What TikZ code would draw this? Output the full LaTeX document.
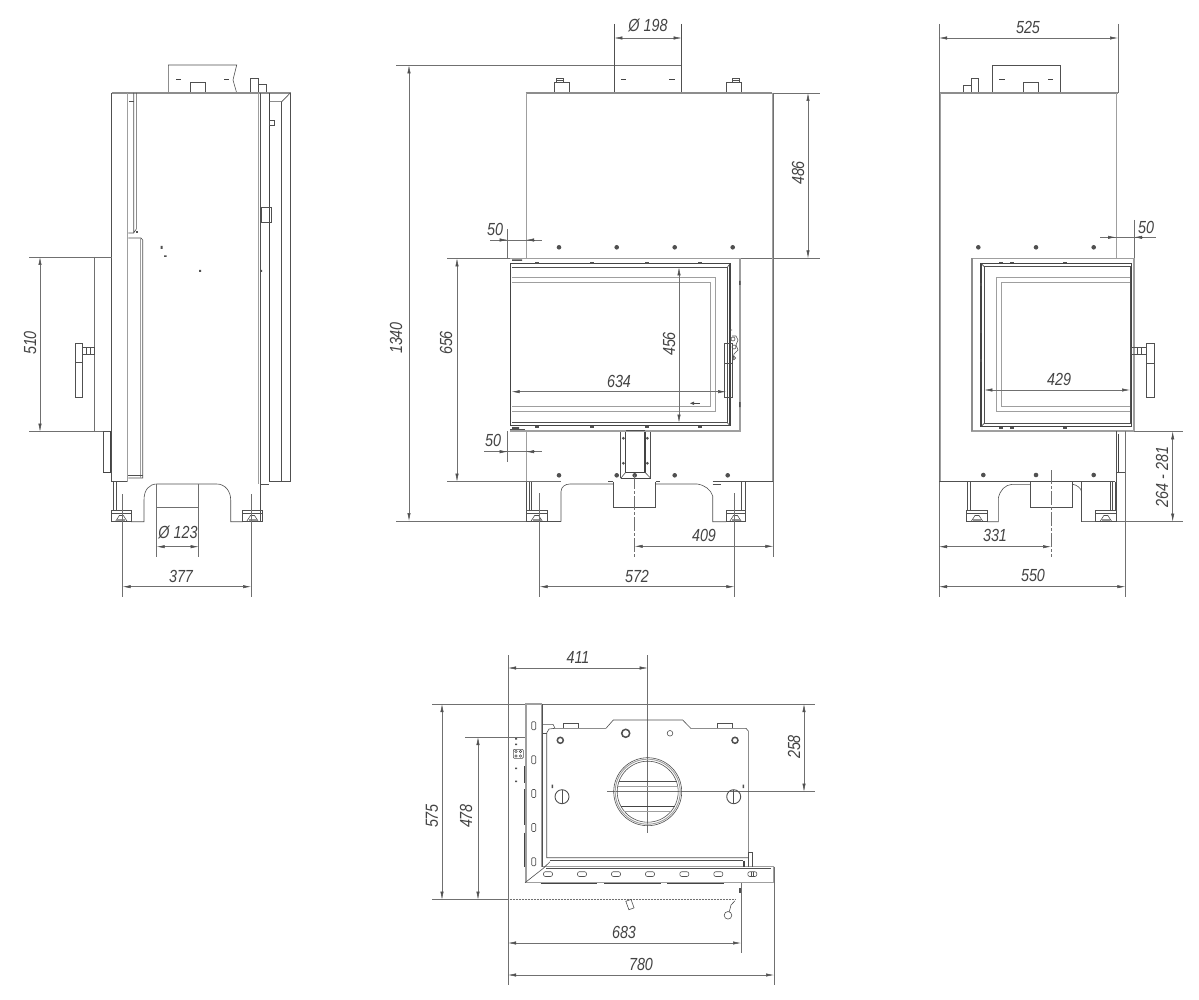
\documentclass[tikz,border=0pt]{standalone}
\usepackage{fontspec}
\usetikzlibrary{arrows.meta}
\newfontfamily\dimfont[FakeStretch=0.82]{Liberation Sans}
\definecolor{ln}{HTML}{505050}
\definecolor{dm}{HTML}{707070}
\tikzset{
  x=1pt,y=-1pt,
  body/.style={draw=ln,line width=0.6pt,fill=none},
  thick body/.style={draw=ln!85!black,line width=1.3pt},
  heavy gray/.style={draw=ln!65!white,line width=1.5pt},
  pale double/.style={draw=ln!55!white,line width=1.4pt},
  ext/.style={draw=dm,line width=0.5pt},
  dimline/.style={draw=dm,line width=0.5pt,{Latex[length=8pt,width=3.2pt,color=ln]}-{Latex[length=8pt,width=3.2pt,color=ln]}},
  center/.style={draw=dm,line width=0.5pt,dash pattern=on 14pt off 2pt on 3pt off 2pt},
  dimlabel/.style={font=\dimfont\itshape\fontsize{17.5}{18}\selectfont,text=ln!85!black,inner sep=0pt},
  dotmark/.style={fill=ln,draw=none},
}
% horizontal dimension: y, x1, x2; vertical dimension: x, y1, y2
\newcommand{\hdimn}[3]{\draw[dimline] (#2,#1) -- (#3,#1);}
\newcommand{\vdimn}[3]{\draw[dimline] (#1,#2) -- (#1,#3);}
\newcommand{\lab}[4]{\node[dimlabel,rotate=#1] (#2) at (#3) {#4};}
% outside arrows 50: y, x1, x2, left end, right end
\newcommand{\outdim}[5]{\draw[ext] (#4,#1) -- (#5,#1);
  \draw[ln,line width=0.5pt,-{Latex[length=8pt,width=3.2pt]}] (#2-8,#1) -- (#2,#1);
  \draw[ln,line width=0.5pt,-{Latex[length=8pt,width=3.2pt]}] (#3+8,#1) -- (#3,#1);}
\newcommand{\footm}[2]{% left x, width
  \draw[body] (#1,510) rectangle (#1+#2,521.7);
  \draw[body] (#1,513) -- (#1+#2,513);
  \draw[body] (#1+#2/2-6,521.7) -- (#1+#2/2-2,515.5) -- (#1+#2/2+2,515.5) -- (#1+#2/2+6,521.7);
  \fill[ln!60!white] (#1+#2/2-4,518.5) rectangle (#1+#2/2+4,520.5);}
\newcommand{\bolt}[2]{\fill[dotmark] (#1,#2) circle (2.3);}
\begin{document}
\begin{tikzpicture}
\useasboundingbox (0,0) rectangle (1199,1000);
\fill[white] (0,0) rectangle (1199,1000);
%% ===== LEFT VIEW =====
\draw[body] (168.3,93) -- (168.3,65) -- (236.7,65) -- (233,80) -- (236.7,93);
\draw[body] (190,93) -- (190,82.5) -- (205,82.5) -- (205,93);
\draw[body] (250,93) -- (250,78) -- (258,78) -- (258,93);
\draw[body] (258,84.5) -- (266,84.5) -- (266,93);
\draw[thick body,line width=.8pt] (176,79.5) -- (181,79.5) (224,79.5) -- (229,79.5);
\draw[heavy gray] (111.7,93) -- (290.7,93);
\draw[body] (111.7,93) -- (111.7,481.7) -- (128.3,481.7);
\draw[pale double] (127.6,93) -- (127.6,481.7);
\draw[body] (129,101) -- (134,101);
\draw[body] (133.7,93) -- (133.7,233) (136.3,93) -- (136.3,229) -- (133.7,233) -- (128.3,233);
\draw[body] (128.3,238) -- (141,238) -- (142.7,240) -- (142.7,478) -- (128.3,478);
\draw[pale double,line width=.9pt] (140,238) -- (140,478);
\draw[body] (128.3,475.5) -- (142.7,475.5);
\draw[pale double,line width=1.3pt] (258.8,93) -- (258.8,484);
\draw[body] (260.5,93) -- (260.5,521);
\draw[thick body,line width=1.1pt] (269.4,93) -- (269.4,481.7);
\draw[body] (269.4,481.7) -- (290.3,481.7) -- (290.3,93);
\draw[body] (281.7,101.7) -- (281.7,481.7);
\draw[body] (269.4,101.7) -- (281.7,101.7) -- (290.3,93);
\draw[body] (260.5,484) -- (269.2,484);
\draw[body] (269.5,120.5) rectangle (274.5,125);
\draw[body] (261,207) rectangle (271,222);
\fill[ln] (160.5,246) rectangle (162.5,249) (164,255.5) rectangle (166.5,257) (199,270) rectangle (201,272) (260.5,270) rectangle (262,272);
\fill[ln] (136,231) rectangle (138,233);
\draw[ext] (29,257) -- (111.7,257);
\draw[ext] (94.4,257) -- (94.4,431.7);
\draw[ext] (29,431.7) -- (111.7,431.7);
\vdimn{40}{257}{431.7}
\lab{90}{d510}{30,343}{510}
\draw[body] (75,343.3) rectangle (82.7,397.7);
\draw[body] (75,362.7) -- (82.7,362.7);
\draw[body] (82.7,347.7) rectangle (94.3,354);
\draw[body] (86.5,347.7) -- (86.5,354) (90,347.7) -- (90,354);
\draw[body] (103.3,431) rectangle (111.7,472.7);
\draw[thick body,line width=.9pt] (110.5,431) -- (110.5,472.7) -- (103.3,472.7);
\draw[body] (113,481.7) -- (113,510) (116,481.7) -- (116,510);
\footm{111.7}{19.3}
\footm{242.7}{19.6}
\draw[body] (131,521.7) -- (144,521.7) -- (144,500) .. controls (144,490) and (149,484) .. (157,484) -- (216.7,484) .. controls (225,484) and (230.7,491) .. (230.7,500) -- (230.7,521.7) -- (242.7,521.7);
\draw[ext] (156.7,484) -- (156.7,557);
\draw[ext] (198.7,484) -- (198.7,557);
\draw[ext] (156.7,507.3) -- (198.7,507.3);
\hdimn{546.7}{156.7}{198.7}
\lab{0}{d123}{178,532}{Ø 123}
\draw[ext] (122.7,494) -- (122.7,597);
\draw[ext] (251,494) -- (251,597);
\hdimn{586.7}{122.7}{251}
\lab{0}{d377}{181,576}{377}
%% ===== FRONT VIEW =====
\draw[ext] (396,65.3) -- (681.7,65.3);
\draw[body] (614.3,24) -- (614.3,93) (681.7,24) -- (681.7,93);
\draw[thick body,line width=.7pt] (621,79.7) -- (626,79.7) (669,79.7) -- (675,79.7);
\hdimn{38}{614.3}{681.7}
\lab{0}{d198}{648,25}{Ø 198}
\draw[body] (554.7,93) -- (554.7,82.3) -- (569.3,82.3) -- (569.3,93);
\draw[body] (556.7,82.3) -- (556.7,78) -- (563.3,78) -- (563.3,82.3) (557,80) -- (563,80);
\draw[body] (726.3,93) -- (726.3,82.3) -- (741,82.3) -- (741,93);
\draw[body] (732.3,82.3) -- (732.3,78) -- (739,78) -- (739,82.3) (733,80) -- (739,80);
\draw[heavy gray] (525.7,93) -- (772.3,93);
\draw[ext] (772.3,93) -- (820,93);
\draw[ext] (447,258.3) -- (820,258.3);
\vdimn{808}{93}{258.3}
\lab{90}{d486}{798,173}{486}
\draw[pale double,line width=1.2pt] (526.2,93) -- (526.2,258) (526.2,431) -- (526.2,481.7);
\draw[pale double,line width=1pt] (772,93) -- (772,481.7);
\draw[ext] (773.3,93) -- (773.3,556.7);
\vdimn{409}{65.3}{521}
\draw[ext] (396,521) -- (561,521);
\lab{90}{d1340}{396,338}{1340}
\vdimn{457}{258.3}{481.7}
\draw[ext] (447,481.7) -- (561,481.7);
\lab{90}{d656}{446,343}{656}
\draw[ext] (507.7,229) -- (507.7,258);
\outdim{240}{507.7}{526}{490}{542}
\lab{0}{d50a}{495,229}{50}
\draw[ext] (507.7,431) -- (507.7,462);
\outdim{451.7}{507.7}{526}{484}{542}
\lab{0}{d50b}{493,440}{50}
\foreach \px in {559,616.7,674.7,732.7}{\bolt{\px}{247.3}}
\foreach \px in {559,616.7,674.7,727.7,634.7}{\bolt{\px}{475.3}}
% door
\draw[pale double,line width=1.2pt] (510,258.3) -- (740,258.3) -- (740,431) -- (510,431);
\draw[thick body] (510.7,263.7) rectangle (730,425.7);
\draw[body] (511.7,267.3) -- (727.3,267.3) -- (727.3,422.7) -- (511.7,422.7);
\draw[body] (727.3,267.3) -- (730,263.7) (727.3,422.7) -- (730,425.7);
\draw[pale double,line width=.8pt] (511.7,277.3) -- (715.7,277.3) -- (715.7,411.7) -- (511.7,411.7);
\draw[pale double,line width=.8pt] (511.7,282.3) -- (710.7,282.3) -- (710.7,406.7) -- (511.7,406.7);
\foreach \px in {537,592,647,700}{\fill[ln] (\px-2,262.5) rectangle (\px+2,264.5); \fill[ln] (\px-2,425.5) rectangle (\px+2,427.5);}
\fill[ln] (512,427) rectangle (519,429) (512,259.5) rectangle (522,261);
\draw[body] (510,429) -- (525,429);
\fill[ln] (739,281) rectangle (740.5,285) (739,402) rectangle (740.5,407);
\vdimn{679}{267.3}{422.7}
\lab{90}{d456}{669,344}{456}
\hdimn{391.7}{511.7}{726}
\lab{0}{d634}{619,381}{634}
\draw[body] (724.3,343.3) rectangle (732,397.3);
\draw[body] (724.3,363) -- (732,363);
\draw[body] (729,330) -- (732,330) (732,336) -- (736,336) -- (738,340) -- (736,345) -- (738,350) -- (734,354) -- (732,364);
\draw[body] (733,339) circle (2) (734,347) circle (2) (734,358) circle (1.6);
\draw[thick body,line width=.8pt] (693,403.3) -- (700,403.3);
\fill[ln] (690,403.3) -- (694,401.6) -- (694,405) -- cycle;
% centre plate
\fill[ln] (626,430) rectangle (645,431.3);
\draw[body] (620.7,432) -- (620.7,478.3) (650.7,432) -- (650.7,478.3);
\draw[thick body] (625.7,432) -- (625.7,472.3) -- (645,472.3) -- (645,432);
\draw[thick body,line width=.9pt] (620.7,478.3) -- (650.7,478.3);
\draw[body] (620.7,478.3) -- (625.7,472.3) (650.7,478.3) -- (645,472.3);
\foreach \px in {623.3,647.3}{\foreach \py in {438.3,463.3}{\fill[ln] (\px,\py) circle (1.5);}}
% base
\draw[body] (561,521.7) -- (561,491.7) .. controls (561,487) and (565,484) .. (570,484) -- (613.3,484);
\draw[body] (613.3,481.7) -- (613.3,507.3) -- (655.7,507.3) -- (655.7,481.7);
\draw[body] (655.7,484) -- (697,484) .. controls (705,485) and (711,490) .. (712.7,496) -- (712.7,521.7) -- (726,521.7);
\draw[body] (561,521.7) -- (526,521.7);
\draw[body] (712.7,481.7) -- (773,481.7);
\draw[body] (526.7,481.7) -- (526.7,510) (531.7,481.7) -- (531.7,510) (529,481.7) -- (529,510);
\draw[body] (741.7,481.7) -- (741.7,510) (745,481.7) -- (745,510);
\draw[body] (712.7,484) -- (721,484);
\draw[body] (608,481.7) -- (613,481.7) (655.7,481.7) -- (660,481.7);
\footm{526}{21.3}
\footm{726}{19}
\draw[center] (634.7,475) -- (634.7,556.7);
\hdimn{546.3}{634.7}{773.3}
\lab{0}{d409}{704,535}{409}
\draw[ext] (539.7,493) -- (539.7,597);
\draw[ext] (734.3,493) -- (734.3,597);
\hdimn{586.7}{539.7}{734.3}
\lab{0}{d572}{637,576}{572}
%% ===== RIGHT VIEW =====
\draw[body] (992.3,93) -- (992.3,65.3) -- (1060,65.3) -- (1060,93);
\draw[body] (1023.7,93) -- (1023.7,82.3) -- (1038.3,82.3) -- (1038.3,93);
\draw[body] (971,93) -- (971,78) -- (978.7,78) -- (978.7,93);
\draw[body] (963.3,93) -- (963.3,85) -- (971,85);
\draw[thick body,line width=.7pt] (999,79.7) -- (1005,79.7) (1048,79.7) -- (1053,79.7);
\draw[heavy gray] (939,93) -- (1118,93);
\draw[ext] (939,24) -- (939,597);
\draw[ext] (1118,24) -- (1118,93);
\hdimn{38}{939}{1118}
\lab{0}{d525}{1028,27}{525}
\draw[pale double,line width=.8pt] (940.5,93) -- (940.5,481.7);
\draw[pale double,line width=1.2pt] (1116.8,93) -- (1116.8,258);
\draw[ext] (1134,220) -- (1134,258);
\outdim{237.3}{1116}{1134}{1100}{1156}
\lab{0}{d50c}{1146,227}{50}
\foreach \px in {978.3,1036,1093.7}{\bolt{\px}{247.3}}
\foreach \px in {983.3,1036,1093.7}{\bolt{\px}{475}}
\draw[pale double,line width=1.2pt] (971.3,258.3) rectangle (1134,431);
\draw[heavy gray,line width=2pt] (972.3,258.3) -- (972.3,431);
\draw[thick body] (981,263.3) rectangle (1131.7,426.7);
\draw[body] (984.3,266.7) rectangle (1130,423.3);
\draw[body] (981,263.3) -- (984.3,266.7) (981,426.7) -- (984.3,423.3);
\draw[pale double,line width=.8pt] (1130,277.3) -- (996.7,277.3) -- (996.7,411.7) -- (1130,411.7);
\draw[pale double,line width=.8pt] (1130,282.3) -- (1001.7,282.3) -- (1001.7,406.7) -- (1130,406.7);
\foreach \px in {1001,1012,1065}{\fill[ln] (\px-2,262) rectangle (\px+2,263.5); \fill[ln] (\px-2,427) rectangle (\px+2,428.5);}
\foreach \py in {283,330,359}{\fill[ln] (980.3,\py) rectangle (981.5,\py+3);}
\hdimn{390}{984.3}{1130}
\lab{0}{d429}{1059,379}{429}
\draw[body] (1146,343.3) rectangle (1154,397.3);
\draw[body] (1146,363.3) -- (1154,363.3);
\draw[body] (1131.7,347.7) rectangle (1146,354.3);
\draw[body] (1137,347.7) -- (1137,354.3) (1141,347.7) -- (1141,354.3);
% lower
\draw[body] (939,481.7) -- (1115,481.7);
\draw[body] (1116.7,431) -- (1116.7,472.7) -- (1125.3,472.7);
\draw[thick body,line width=.9pt] (1118,434) -- (1118,472);
\draw[ext] (1125.3,431) -- (1125.3,597);
\draw[ext] (1134,431.3) -- (1183,431.3);
\draw[ext] (1081.7,521.7) -- (1183,521.7);
\vdimn{1172.7}{431.3}{521.7}
\lab{90}{d264}{1162,476.7}{264 - 281}
\draw[body] (967.3,481.7) -- (967.3,510) (970.7,481.7) -- (970.7,510);
\footm{966.7}{20.6}
\draw[body] (987.3,521.7) -- (998.3,521.7) -- (998.3,498.3) .. controls (1000,490) and (1005,485) .. (1012,484.3) -- (1030,484.3);
\draw[body] (1030,481.7) -- (1030,507.7) -- (1072.7,507.7) -- (1072.7,481.7);
\draw[body] (1072.7,484.3) .. controls (1077,485) and (1081,488) .. (1081.7,492);
\draw[body] (1081.7,481.7) -- (1081.7,521.7);
\draw[body] (1110,481.7) -- (1110,510) (1112,481.7) -- (1112,510) (1115,481.7) -- (1115,510);
\draw[body] (1116,472.7) -- (1116,510);
\footm{1095}{21.7}
\draw[center] (1051,470) -- (1051,556.7);
\hdimn{546.7}{939}{1051}
\lab{0}{d331}{995,535}{331}
\hdimn{586.7}{939}{1125.3}
\lab{0}{d550}{1033,575}{550}
%% ===== TOP/BOTTOM VIEW =====
\draw[ext] (432,704) -- (815,704);
\draw[ext] (607,791.7) -- (815,791.7);
\draw[ext] (647.7,655) -- (647.7,832.7);
\draw[ext] (508,655) -- (508,985);
\hdimn{668}{508}{647.7}
\lab{0}{d411}{578,657}{411}
\vdimn{804}{704}{791.7}
\lab{90}{d258}{794,747}{258}
\vdimn{442}{704}{899.7}
\lab{90}{d575}{432,816}{575}
\vdimn{478}{737}{899.7}
\lab{90}{d478}{466,816}{478}
\draw[ext] (465,737) -- (525,737);
\draw[ext] (432,899.7) -- (508,899.7);
\draw[ext,densely dotted] (508,899.7) -- (735,899.7);
\draw[ext] (741,883) -- (741,953);
\draw[ext] (774,866.7) -- (774,985);
\hdimn{943}{508}{741}
\lab{0}{d683}{624,932}{683}
\hdimn{975}{508}{774}
\lab{0}{d780}{641,964}{780}
% L frame
\draw[pale double] (525.8,704) -- (525.8,882.7) -- (773.3,882.7) -- (773.3,866.7) -- (543,866.7);
\draw[pale double] (525,704) -- (541.2,704) -- (541.2,866.7);
\draw[body] (525,882.7) -- (543.3,868.3) -- (550,861.7);
\draw[body] (546,868.3) -- (771,868.3);
\draw[thick body,line width=1.4pt] (540.7,883.5) -- (597.3,883.5) (604,883.5) -- (661,883.5) (667.3,883.5) -- (724,883.5);
\draw[thick body,line width=1pt] (524,766) -- (524,782.7) (524,789.3) -- (524,825) (524,832.7) -- (524,866.7);
\foreach \py in {721.7,755.7,789.5,823.5,857.7}{\draw[body,rounded corners=1pt] (531.7,\py) rectangle (535.7,\py+8);}
\foreach \px in {548,582,616,650,684.3,718.3,752.3}{\draw[body,rounded corners=2pt] (\px-4.5,871.7) rectangle (\px+4.5,876.5);}
\draw[body] (751,871.7) -- (751,876.5) (753.5,871.7) -- (753.5,876.5);
% plate
\draw[body] (542.7,724.3) -- (553,724.3) -- (555,728.3) -- (606,728.3) -- (613.3,720) -- (682.7,720) -- (690.7,728.3) -- (746,728.3) -- (748.3,731) -- (748.3,853.3);
\draw[body] (555,728.3) -- (549,729) -- (546.7,733) -- (546.7,857.7) -- (748.3,857.7);
\draw[body] (542.7,733) -- (546.7,733) (542.7,704) -- (542.7,866.7);
\draw[body] (550,860.7) -- (743,860.7);
\draw[body] (563.3,728.3) -- (563.3,723.3) -- (578,723.3) -- (578,728.3);
\draw[body] (717.3,728.3) -- (717.3,723.3) -- (732.7,723.3) -- (732.7,728.3);
\draw[body] (748,852.7) -- (748,866.7) (752.7,866.7) -- (752.7,852.7) -- (748,852.7);
\draw[thick body,line width=1.2pt] (744,860.7) -- (744,866.7);
\draw[body,line width=1.5pt] (560.3,740.3) circle (3);
\draw[body,line width=1.5pt] (625.7,733.3) circle (4);
\draw[body] (670,733.3) circle (2.8);
\draw[body,line width=1.5pt] (735,740.3) circle (3);
% round flue
\draw[body] (647.7,791.7) circle (34);
\draw[pale double,line width=.9pt] (647.7,791.7) circle (32.5);
\draw[body] (647.7,791.7) circle (30.5);
\draw[body] (619,781.7) -- (676.5,781.7);
\draw[pale double,line width=.7pt] (618,786.7) -- (677.5,786.7);
\draw[thick body,line width=.7pt] (621,806.7) -- (674.5,806.7);
\draw[pale double,line width=.7pt] (624,811.7) -- (671.5,811.7);
\foreach \bx in {562,733.7}{\draw[body,line width=.9pt] (\bx,796.7) circle (7); \draw[body] (\bx,790) -- (\bx,803.5);}
\fill[ln] (551.5,784.5) rectangle (553.2,788) (742.5,784.5) rectangle (744.2,788);
\fill[ln] (515,738) rectangle (517,739.5) (515,743.5) rectangle (517,745) (515,767.5) rectangle (517,769) (515,780.5) rectangle (517,782);
\draw[body,rounded corners=1pt] (513.3,749.3) rectangle (523.3,758.3);
\draw[body] (516,751.5) circle (1.2) (520.5,751.5) circle (1.2) (516,756) circle (1.2) (520.5,756) circle (1.2);
% handles
\draw[body,rotate around={20:(630,904)}] (627,900) rectangle (632.5,909);
\draw[body] (728,915.3) circle (3.8);
\draw[body] (729.3,911.7) -- (731,905) -- (735,900.7);
\fill[ln] (738.8,888) rectangle (740.5,893);
\end{tikzpicture}
\end{document}
